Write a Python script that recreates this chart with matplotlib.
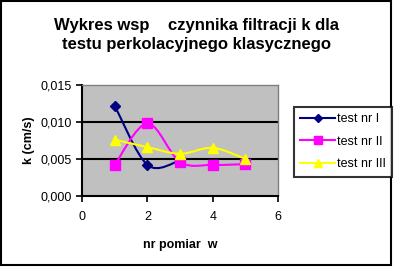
import numpy as np
import matplotlib
matplotlib.use("Agg")
import matplotlib.pyplot as plt
from matplotlib.path import Path
from matplotlib.patches import PathPatch, Rectangle
from matplotlib.lines import Line2D

plt.rcParams["font.family"] = ["Liberation Sans", "DejaVu Sans"]

x_test1 = [1, 2, 3]
k_test1 = [0.0122, 0.0042, 0.0048]
x_test2 = [1, 2, 3, 4, 5]
k_test2 = [0.0042, 0.0098, 0.0046, 0.0042, 0.0043]
x_test3 = [1, 2, 3, 4, 5]
k_test3 = [0.0076, 0.0066, 0.0057, 0.0065, 0.0050]

series = [
    ("test nr I", x_test1, k_test1, "#000080", "D", 5),
    ("test nr II", x_test2, k_test2, "#FF00FF", "s", 7),
    ("test nr III", x_test3, k_test3, "#FFFF00", "^", 7),
]

y_ticks = [0.0, 0.005, 0.010, 0.015]
y_labels = ["0,000", "0,005", "0,010", "0,015"]
x_ticks = [0, 2, 4, 6]


def smooth_path(xs, ys):
    # Excel-style smoothed line: cubic Bezier between points
    pts = np.column_stack([xs, ys])
    verts = [pts[0]]
    codes = [Path.MOVETO]
    n = len(pts)
    for i in range(n - 1):
        p0 = pts[i - 1] if i > 0 else pts[i]
        p1 = pts[i]
        p2 = pts[i + 1]
        p3 = pts[i + 2] if i + 2 < n else pts[i + 1]
        c1 = p1 + (p2 - p0) / 6
        c2 = p2 - (p3 - p1) / 6
        verts += [c1, c2, p2]
        codes += [Path.CURVE4] * 3
    return Path(verts, codes)


fig = plt.figure(figsize=(3.94, 2.67), dpi=100)
fig.patches.append(Rectangle((0.002, 0.006), 0.991, 0.99, transform=fig.transFigure,
                             fill=False, edgecolor="black", linewidth=1.5))

ax = fig.add_axes([0.208, 0.266, 0.498, 0.416])
ax.set_facecolor("#C0C0C0")
for name, xs, ys, color, marker, ms in series:
    ax.add_patch(PathPatch(smooth_path(xs, ys), fill=False, edgecolor=color,
                           linewidth=1.5, zorder=3))
    ax.plot(xs, ys, linestyle="none", marker=marker, color=color,
            markersize=ms, zorder=4)

ax.set_xlim(0, 6)
ax.set_ylim(0, 0.015)
ax.set_xticks(x_ticks)
ax.set_yticks(y_ticks)
ax.set_yticklabels(y_labels)
ax.tick_params(labelsize=9, direction="out", length=4, width=1.2)
ax.tick_params(axis="x", pad=7)
for y in y_ticks[1:3]:
    ax.axhline(y, color="black", linewidth=1.5, zorder=1)
for side in ["top", "right"]:
    ax.spines[side].set_color("#808080")
    ax.spines[side].set_linewidth(1)
for side in ["left", "bottom"]:
    ax.spines[side].set_linewidth(1.5)

ax.set_xlabel("nr pomiar  w", fontsize=9, fontweight="bold", labelpad=11)
ax.set_ylabel("k (cm/s)", fontsize=9, fontweight="bold", labelpad=4)
fig.text(0.5, 0.87, "Wykres wsp    czynnika filtracji k dla\ntestu perkolacyjnego klasycznego",
         ha="center", va="center", fontsize=12, fontweight="bold", linespacing=1.35)

handles = [Line2D([], [], color=c, marker=m, markersize=ms * 0.9, linewidth=1.5)
           for _, _, _, c, m, ms in series]
leg = fig.legend(handles, [s[0] for s in series], loc="upper left",
                 bbox_to_anchor=(0.746, 0.6), fontsize=9, frameon=True,
                 fancybox=False, handlelength=2.8, handletextpad=0.15,
                 borderpad=0.5, labelspacing=0.85, borderaxespad=0)
leg.get_frame().set_edgecolor("black")
leg.get_frame().set_linewidth(1.5)

fig.savefig("out.png", dpi=100)
